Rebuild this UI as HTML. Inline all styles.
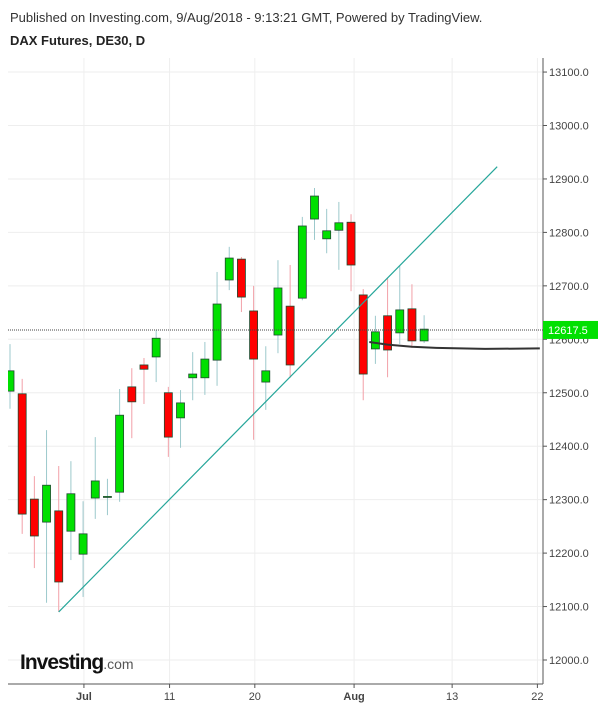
<!DOCTYPE html>
<html><head><meta charset="utf-8"><style>
body{margin:0;background:#fff;font-family:"Liberation Sans",sans-serif}
#wrap{position:relative;width:600px;height:708px;overflow:hidden}
</style></head><body>
<div id="wrap">
<svg id="chart" width="600" height="708" xmlns="http://www.w3.org/2000/svg">
<text x="10" y="22" font-size="13" fill="#333">Published on Investing.com, 9/Aug/2018 - 9:13:21 GMT, Powered by TradingView.</text>
<text x="10" y="45" font-size="13" font-weight="bold" fill="#222">DAX Futures, DE30, D</text>
<g id="grid"></g><g id="axes"></g><g id="marks"></g>
<text x="20" y="669" font-size="21" font-weight="bold" fill="#111" letter-spacing="-1">Investing<tspan font-size="14" font-weight="normal" fill="#555" letter-spacing="0">.com</tspan></text>
</svg>
</div>
<script>
const opens  =[12503,12498,12301,12258,12279,12241,12198,12303,12305,12314,12511,12552,12567,12500,12453,12528,12528,12561,12711,12750,12653,12520,12608,12662,12677,12825,12788,12804,12819,12683,12582,12644,12612,12657,12597];
const closes =[12541,12273,12232,12327,12146,12311,12236,12335,12306,12458,12483,12544,12602,12417,12481,12535,12563,12666,12752,12679,12563,12541,12696,12552,12812,12868,12803,12818,12739,12535,12614,12580,12655,12597,12619];
const highs  =[12591,12526,12344,12430,12363,12372,12297,12417,12339,12507,12546,12565,12617,12511,12505,12576,12595,12726,12773,12754,12700,12587,12748,12739,12829,12883,12844,12857,12834,12694,12644,12715,12737,12703,12645];
const lows   =[12470,12236,12172,12107,12090,12187,12118,12264,12271,12296,12415,12479,12520,12380,12397,12486,12496,12513,12692,12651,12412,12468,12574,12528,12673,12786,12761,12730,12690,12486,12554,12529,12591,12584,12593];
const yTicks =[12000,12100,12200,12300,12400,12500,12600,12700,12800,12900,13000,13100];
const xLabels=["Jul","11","20","Aug","13","22"];
const xLabelIdx=[6.07,13.1,20.1,28.25,36.3,43.3];
const xLabelBold=[true,false,false,true,false,false];
const trendIdx=[4,40];
const trendPrice=[12090,12923];
const maIdx=[29.5,31,33,35,37,39,43.5];
const maPrice=[12595,12590,12586,12584,12583,12582,12583];
const lastPrice=12617.5;

const NS="http://www.w3.org/2000/svg";
const L=8,R=543,T=58,B=684;
const y=p=>660-(p-12000)*0.5345;
const x=i=>10+i*12.18;
function mk(tag,attrs,parent){const e=document.createElementNS(NS,tag);for(const k in attrs)e.setAttribute(k,attrs[k]);parent.appendChild(e);return e;}
const grid=document.getElementById('grid'),axes=document.getElementById('axes'),marks=document.getElementById('marks');
yTicks.forEach(t=>{
  const l=mk('line',{x1:L,x2:R,y1:y(t),y2:y(t),stroke:'#eeeeee'},grid);
  
  
  const tk=mk('line',{x1:R,x2:R+4,y1:y(t),y2:y(t),stroke:'#555'},axes);
  
  
  const tx=mk('text',{x:R+6,y:y(t)+4,'font-size':11,fill:'#444'},axes);
  tx.textContent=t.toFixed(1);
  
  
});
xLabels.forEach((s,k)=>{
  const xx=x(xLabelIdx[k]);
  const l=mk('line',{x1:xx,x2:xx,y1:T,y2:B,stroke:'#eeeeee'},grid);
  
  
  const tk=mk('line',{x1:xx,x2:xx,y1:B,y2:B+4,stroke:'#555'},axes);
  
  
  const tx=mk('text',{x:xx,y:B+16,'font-size':11,fill:'#444','text-anchor':'middle','font-weight':xLabelBold[k]?'bold':'normal'},axes);
  tx.textContent=s;
  
  
});
const ya=mk('line',{x1:R,x2:R,y1:T,y2:B,stroke:'#555'},axes);


const xa=mk('line',{x1:L,x2:R,y1:B,y2:B,stroke:'#555'},axes);



const clip=mk('clipPath',{id:'pc'},marks);mk('rect',{x:L,y:T,width:R-L,height:B-T},clip);
const g=mk('g',{'clip-path':'url(#pc)'},marks);
opens.forEach((o,i)=>{
  const c=closes[i],up=c>=o,cx=x(i);
  const w=mk('line',{x1:cx,x2:cx,y1:y(highs[i]),y2:y(lows[i]),stroke:up?'#9cc9cc':'#f2a0a8'},g);
  
  
  const top=y(Math.max(o,c)),h=Math.max(1,Math.abs(y(o)-y(c)));
  const b=mk('rect',{x:cx-4,y:top,width:8,height:h,fill:up?'#00e000':'#ff0000',stroke:'#1f4a2f','stroke-width':0.8},g);
  
  
});
const tl=mk('line',{x1:x(trendIdx[0]),y1:y(trendPrice[0]),x2:x(trendIdx[1]),y2:y(trendPrice[1]),stroke:'#26a69a','stroke-width':1.2},g);


const ma=mk('polyline',{points:maIdx.map((v,k)=>x(v)+','+y(maPrice[k])).join(' '),fill:'none',stroke:'#333','stroke-width':2},g);


const lp=mk('line',{x1:L,x2:R,y1:y(lastPrice),y2:y(lastPrice),stroke:'#444','stroke-dasharray':'1,1'},g);


const lb=mk('rect',{x:R,y:y(lastPrice)-9,width:55,height:18,fill:'#00e000'},marks);


const lt=mk('text',{x:R+5,y:y(lastPrice)+4,'font-size':11,fill:'#fff'},marks);
lt.textContent=lastPrice.toFixed(1);


</script>
</body></html>
